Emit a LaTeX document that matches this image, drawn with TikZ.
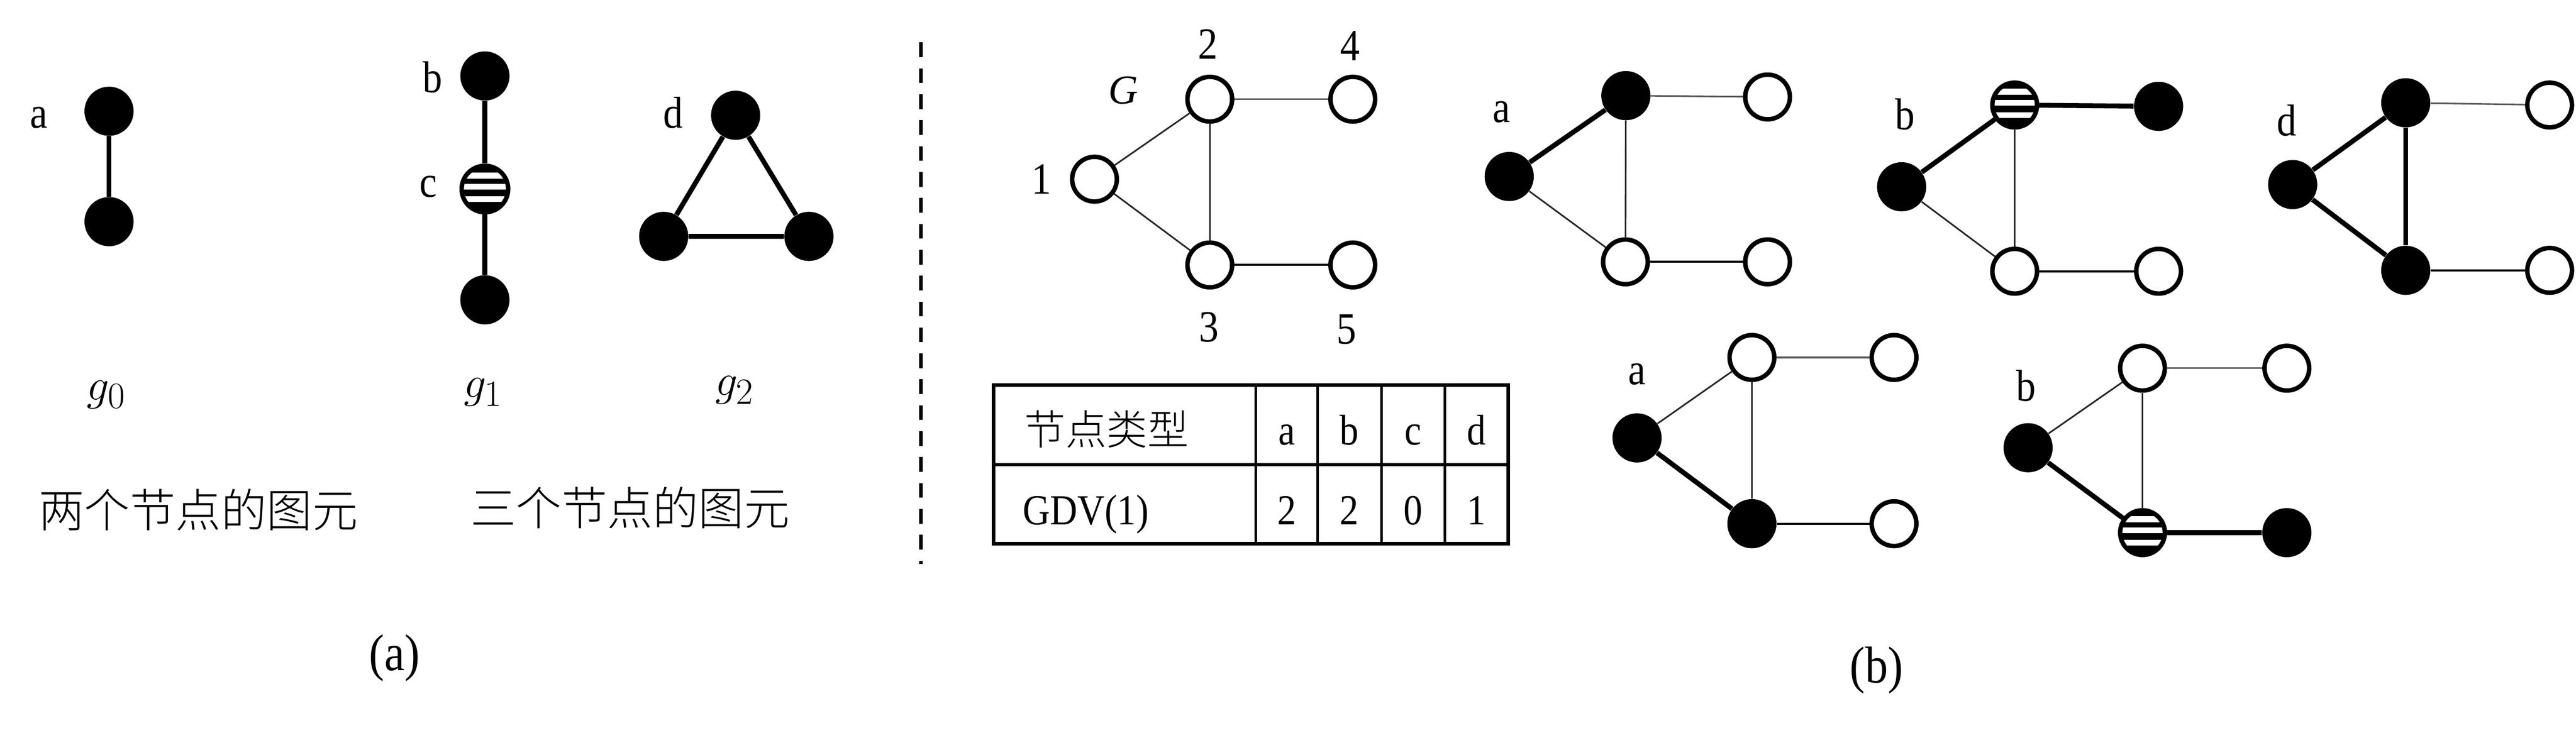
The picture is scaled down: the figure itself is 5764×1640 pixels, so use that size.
\documentclass[tikz,border=0pt]{standalone}
\usepackage{fontspec}
\setmainfont{Liberation Serif}
\newfontfamily\cjk{Noto Sans CJK SC Light}
\newfontfamily\nserif[FakeStretch=0.88]{Liberation Serif}
\begin{document}
\begin{tikzpicture}[x=0.25pt,y=-0.25pt,
  bn/.style={circle, fill=black, minimum size=27.5pt, inner sep=0pt},
  wn/.style={circle, draw=black, fill=white, line width=2.5pt, minimum size=25pt, inner sep=0pt},
  sn/.style={wn, path picture={
    \begin{scope}[shift={(path picture bounding box.center)}]
      \fill[black] (-70,-70) rectangle (70,-37);
      \fill[black] (-70,-23) rectangle (70,-11);
      \fill[black] (-70,1) rectangle (70,16);
      \fill[black] (-70,29) rectangle (70,70);
    \end{scope}}},
  lbl/.style={font=\nserif\fontsize{25pt}{30pt}\selectfont, inner sep=0pt},
  captext/.style={font=\nserif\fontsize{29pt}{34pt}\selectfont, inner sep=0pt},
  cjkcap/.style={font=\cjk\fontsize{25.5pt}{30pt}\selectfont, inner sep=0pt},
  mathlbl/.style={font=\fontsize{30pt}{34pt}\selectfont, inner sep=0pt},
  tka/.style={line width=2.75pt},
  tk/.style={line width=2.75pt},
  tn/.style={line width=0.9pt, black!85},
  tgrey/.style={line width=0.9pt, black!65},
  md/.style={line width=1.15pt},
  tbl/.style={inner sep=0pt, font=\nserif\fontsize{24pt}{28pt}\selectfont}
]
\useasboundingbox (0,0) rectangle (5764,1640);

% ---------- panel (a) ----------
\node[bn] (a0t) at (244,249) {};
\node[bn] (a0b) at (244,496) {};
\node[lbl] (la0) at (87,263) {a};
\draw[tka] (a0t) -- (a0b);

\node[bn] (b1) at (1085,170) {};
\node[sn, minimum size=26pt] (c1) at (1085,423) {};
\node[bn] (e1) at (1085,671) {};
\node[lbl] (lb1) at (968,173) {b};
\node[lbl] (lc1) at (959,418) {c};
\draw[tka] (b1) -- (c1);
\draw[tka] (c1) -- (e1);

\node[bn] (d2) at (1646,258) {};
\node[bn] (l2) at (1485,529) {};
\node[bn] (r2) at (1810,529) {};
\node[lbl] (ld2) at (1506,252) {d};
\draw[tka] (d2) -- (l2) -- (r2) -- (d2);

\node[mathlbl] (g0) at (238,883) {$g_0$};
\node[mathlbl] (g1) at (1081,878) {$g_1$};
\node[mathlbl] (g2) at (1644,873) {$g_2$};

\node[cjkcap] (t2) at (444,1141) {两个节点的图元};
\node[cjkcap] (t3) at (1410,1136) {三个节点的图元};
\node[captext] (capa) at (883,1472) {(a)};

% ---------- separator ----------
\coordinate (sepT) at (2061,95);
\coordinate (sepB) at (2061,1262);
\draw[line width=2pt, dash pattern=on 8.25pt off 6.25pt] (sepT) -- (sepB);

% ---------- graph G ----------
\node[wn] (G1) at (2449,401) {};
\node[wn] (G2) at (2707,222) {};
\node[wn] (G4) at (3027,222) {};
\node[wn] (G3) at (2707,593) {};
\node[wn] (G5) at (3027,593) {};
\draw[tn] (G1) -- (G2);
\draw[tn] (G1) -- (G3);
\draw[tn] (G2) -- (G3);
\draw[tgrey] (G2) -- (G4);
\draw[md] (G3) -- (G5);
\node[lbl] (n1) at (2330,401) {1};
\node[lbl] (n2) at (2703,99) {2};
\node[lbl] (n4) at (3021,103) {4};
\node[lbl] (n3) at (2705,732) {3};
\node[lbl] (n5) at (3013,737) {5};
\node[lbl, font=\itshape\fontsize{23pt}{28pt}\selectfont] (nG) at (2513,202) {G};

% ---------- table ----------
\draw[line width=2pt] (2223,862) rectangle (3375,1217);
\draw[line width=1.6pt] (2223,1040) -- (3375,1040);
\foreach \xx in {2810,2948,3091,3233}
  \draw[line width=1.4pt] (\xx,862) -- (\xx,1217);
\node[inner sep=0pt, font=\cjk\fontsize{23pt}{28pt}\selectfont] (th) at (2476,960) {节点类型};
\node[tbl, anchor=base west] (tgdv) at (2288,1174) {GDV(1)};
\node[tbl, anchor=base] (ta) at (2879,996) {a};
\node[tbl, anchor=base] (tb) at (3019,996) {b};
\node[tbl, anchor=base] (tc) at (3162,996) {c};
\node[tbl, anchor=base] (td) at (3304,996) {d};
\node[tbl, anchor=base] (va) at (2879,1174) {2};
\node[tbl, anchor=base] (vb) at (3019,1174) {2};
\node[tbl, anchor=base] (vc) at (3162,1174) {0};
\node[tbl, anchor=base] (vd) at (3304,1174) {1};

% ---------- panel (b), top row ----------
% graph a
\node[bn] (pL) at (3377,395) {};
\node[bn] (pT) at (3638,214) {};
\node[wn] (pR) at (3955,217) {};
\node[wn] (pB) at (3637,586) {};
\node[wn] (pS) at (3955,586) {};
\draw[tk] (pL) -- (pT);
\draw[tn] (pL) -- (pB);
\draw[tn] (pT) -- (pB);
\draw[tgrey] (pT) -- (pR);
\draw[md] (pB) -- (pS);
\node[lbl] (lp) at (3360,251) {a};

% graph b
\node[bn] (qL) at (4255,418) {};
\node[sn] (qT) at (4508,235) {};
\node[bn] (qR) at (4830,238) {};
\node[wn] (qB) at (4508,607) {};
\node[wn] (qS) at (4830,607) {};
\draw[tk] (qL) -- (qT);
\draw[tk] (qT) -- (qR);
\draw[tn] (qL) -- (qB);
\draw[tn] (qT) -- (qB);
\draw[md] (qB) -- (qS);
\node[lbl] (lq) at (4263,256) {b};

% graph d
\node[bn] (rL) at (5130,413) {};
\node[bn] (rT) at (5383,230) {};
\node[wn] (rR) at (5705,235) {};
\node[bn] (rB) at (5383,605) {};
\node[wn] (rS) at (5705,605) {};
\draw[tk] (rL) -- (rT);
\draw[tk] (rL) -- (rB);
\draw[tk] (rT) -- (rB);
\draw[tgrey] (rT) -- (rR);
\draw[md] (rB) -- (rS);
\node[lbl] (lr) at (5117,270) {d};

% ---------- panel (b), bottom row ----------
% graph a
\node[bn] (sL) at (3663,980) {};
\node[wn] (sT) at (3920,800) {};
\node[wn] (sR) at (4238,800) {};
\node[bn] (sB) at (3920,1172) {};
\node[wn] (sS) at (4238,1172) {};
\draw[tk] (sL) -- (sB);
\draw[tn] (sL) -- (sT);
\draw[tn] (sT) -- (sB);
\draw[tgrey] (sT) -- (sR);
\draw[md] (sB) -- (sS);
\node[lbl] (ls) at (3663,837) {a};

% graph b
\node[bn] (uL) at (4538,1002) {};
\node[wn] (uT) at (4794,824) {};
\node[wn] (uR) at (5117,824) {};
\node[sn] (uB) at (4794,1192) {};
\node[bn] (uS) at (5117,1192) {};
\draw[tk] (uL) -- (uB);
\draw[tk] (uB) -- (uS);
\draw[tn] (uL) -- (uT);
\draw[tn] (uT) -- (uB);
\draw[tgrey] (uT) -- (uR);
\node[lbl] (lu) at (4533,863) {b};

\node[captext] (capb) at (4199,1500) {(b)};
\end{tikzpicture}
\end{document}
